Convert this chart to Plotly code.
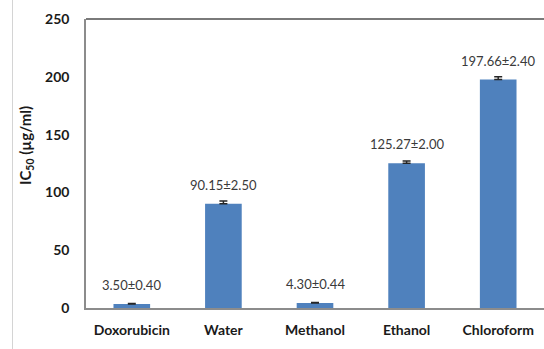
import plotly.graph_objects as go

# IC50 values (µg/ml) with standard deviations
extracts = ["Doxorubicin", "Water", "Methanol", "Ethanol", "Chloroform"]
ic50 = [3.50, 90.15, 4.30, 125.27, 197.66]
sd = [0.40, 2.50, 0.44, 2.00, 2.40]
y_ticks = [0, 50, 100, 150, 200, 250]

W, H = 544, 349
L, R, T, B = 86, 0, 19, 41
plot_w = W - L - R
plot_h = H - T - B

BAR = "#4F81BD"
FONT = "Lato, 'Open Sans', Arial, sans-serif"

fig = go.Figure()
fig.add_trace(go.Bar(
    x=extracts,
    y=ic50,
    width=0.4,
    marker=dict(color=BAR, line=dict(width=0)),
    # plus-direction error bars only
    error_y=dict(type="data", symmetric=False, array=sd,
                 arrayminus=[0] * len(sd), visible=True,
                 color="#262626", thickness=1.5, width=4),
    showlegend=False,
    hoverinfo="skip",
))

# value ± SD labels above each bar
for name, v, e in zip(extracts, ic50, sd):
    fig.add_annotation(
        x=name, y=v, xref="x", yref="y",
        text=f"{v:.2f}±{e:.2f}",
        showarrow=False, yanchor="middle", yshift=19,
        font=dict(family=FONT, size=13, color="#3a3a3a"),
    )

# rotated y-axis title with subscript
fig.add_annotation(
    x=(26 - L) / plot_w, y=(plot_h - (146 - T)) / plot_h,
    xref="paper", yref="paper",
    text="<b>IC<sub>50</sub> (µg/ml)</b>",
    textangle=-90, showarrow=False,
    xanchor="center", yanchor="middle",
    font=dict(family=FONT, size=15, color="#1a1a1a"),
)

# top border of plot area and outer chart border on the left
fig.add_shape(type="line", xref="paper", yref="paper",
              x0=0, x1=1, y0=1, y1=1,
              line=dict(color="#7a7a7a", width=2))
fig.add_shape(type="line", xref="paper", yref="paper",
              x0=(12.5 - L) / plot_w, x1=(12.5 - L) / plot_w,
              y0=-B / plot_h, y1=1 + T / plot_h,
              line=dict(color="#d4d4d4", width=1))

fig.update_layout(
    width=W, height=H,
    margin=dict(l=L, r=R, t=T, b=B, pad=0),
    paper_bgcolor="white", plot_bgcolor="white",
    bargap=0.6,
    font=dict(family=FONT, color="#1a1a1a"),
    xaxis=dict(
        showline=True, linecolor="#8c8c8c", linewidth=1.5,
        showgrid=False, zeroline=False, ticks="",
        tickfont=dict(family=FONT, size=14, color="#1a1a1a", weight="bold"),
        ticklabelstandoff=8,
    ),
    yaxis=dict(
        range=[0, 250], tickvals=y_ticks,
        showline=True, linecolor="#8c8c8c", linewidth=1.5,
        showgrid=False, zeroline=False, ticks="",
        tickfont=dict(family=FONT, size=14, color="#1a1a1a", weight="bold"),
        ticklabelstandoff=12,
    ),
)

fig.write_html("out.html")
